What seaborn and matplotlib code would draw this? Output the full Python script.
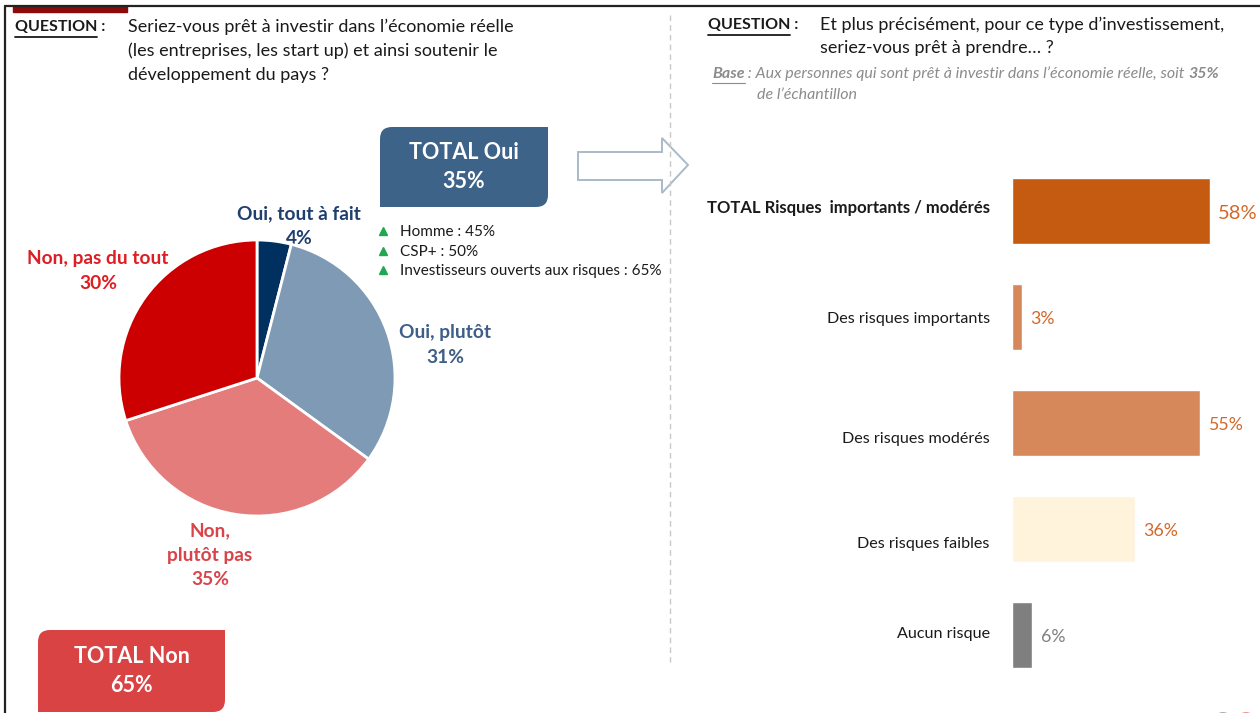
import matplotlib
matplotlib.use("Agg")
import matplotlib.pyplot as plt
import seaborn as sns
import pandas as pd
from matplotlib.patches import FancyBboxPatch, Rectangle, Polygon, Circle

# --- data -------------------------------------------------------------------
pie_labels = ["Oui, tout à fait", "Oui, plutôt", "Non,\nplutôt pas", "Non, pas du tout"]
pie_values = [4, 31, 35, 30]
pie_colors = ["#00305F", "#7F9AB4", "#E47C7C", "#CC0000"]

total_oui = 35
total_non = 65
bullet_labels = ["Homme : 45%", "CSP+ : 50%", "Investisseurs ouverts aux risques : 65%"]

risk_labels = ["TOTAL Risques  importants / modérés", "Des risques importants",
               "Des risques modérés", "Des risques faibles", "Aucun risque"]
risk_values = [58, 3, 55, 36, 6]
risk_colors = ["#C55A11", "#D6885A", "#D6885A", "#FFF3DB", "#7F7F7F"]

q1_lines = ["Seriez-vous prêt à investir dans l\u2019économie réelle",
            "(les entreprises, les start up) et ainsi soutenir le",
            "développement du pays ?"]
q2_lines = ["Et plus précisément, pour ce type d\u2019investissement,",
            "seriez-vous prêt à prendre\u2026 ?"]

W, H = 1260, 713
sns.set_theme(style="white")
plt.rcParams['font.family'] = ['Lato', 'DejaVu Sans']

fig = plt.figure(figsize=(W / 100, H / 100), dpi=100)
fig.patch.set_facecolor("white")


def px_axes(x0, y0, x1, y1):
    # axes from pixel box (top-left origin)
    return fig.add_axes([x0 / W, 1 - y1 / H, (x1 - x0) / W, (y1 - y0) / H])


# overlay in pixel coordinates
bg = fig.add_axes([0, 0, 1, 1])
bg.set_xlim(0, W)
bg.set_ylim(H, 0)
bg.axis("off")

# frame
bg.plot([5, W], [6, 6], color="#222222", lw=1.6)
bg.plot([5, 5], [6, H], color="#222222", lw=1.6)
bg.add_patch(Rectangle((13, 6), 114, 6, color="#8B0A0A"))
bg.plot([670, 670], [15, 662], color="#C8C8C8", lw=1, ls=(0, (4, 3)))

# question 1
bg.text(15, 27, "QUESTION :", fontsize=11.5, fontweight="bold", color="#1A1A1A", va="center")
bg.plot([15, 97], [37, 37], color="#1A1A1A", lw=1.3)
for i, line in enumerate(q1_lines):
    bg.text(128, 27 + i * 24, line, fontsize=13, color="#1A1A1A", va="center")

# question 2
bg.text(708, 25, "QUESTION :", fontsize=11.5, fontweight="bold", color="#1A1A1A", va="center")
bg.plot([708, 790], [35, 35], color="#1A1A1A", lw=1.3)
for i, line in enumerate(q2_lines):
    bg.text(820, 25 + i * 23, line, fontsize=13, color="#1A1A1A", va="center")

grey = "#8C8C8C"
base_fs = 11.5
t = bg.text(712, 74, "Base", fontsize=base_fs, style="italic", fontweight="bold",
            color=grey, va="center")
bg.plot([712, 745], [83, 83], color=grey, lw=0.8)
t = bg.annotate(" : Aux personnes qui sont prêt à investir dans l\u2019économie réelle, soit ",
                xy=(1, 0.5), xycoords=t, fontsize=base_fs, style="italic", color=grey,
                va="center", ha="left")
bg.annotate(f"{total_oui}%", xy=(1, 0.5), xycoords=t, fontsize=base_fs, style="italic",
            fontweight="bold", color=grey, va="center", ha="left")
bg.text(757, 95, "de l\u2019échantillon", fontsize=base_fs, style="italic", color=grey,
        va="center")


def total_box(x0, y0, x1, y1, color, text, square_corners):
    bg.add_patch(FancyBboxPatch((x0, y0), x1 - x0, y1 - y0,
                                boxstyle="round,pad=0,rounding_size=12",
                                fc=color, ec="none"))
    for cx, cy in square_corners:
        bg.add_patch(Rectangle((cx, cy), 14, 14, fc=color, ec="none"))
    bg.text((x0 + x1) / 2, (y0 + y1) / 2, text, fontsize=15.5, fontweight="bold",
            color="white", ha="center", va="center", linespacing=1.45)


total_box(380, 127, 548, 207, "#3E6388", f"TOTAL Oui\n{total_oui}%",
          [(534, 127), (380, 193)])
total_box(38, 630, 225, 712, "#D94343", f"TOTAL Non\n{total_non}%",
          [(211, 630), (38, 698)])

# bullets
for i, lab in enumerate(bullet_labels):
    y = 232 + i * 19.5
    bg.plot(383, y - 1, marker="^", color="#1FA84F", markersize=5.5)
    bg.text(400, y, lab, fontsize=11, color="#1A1A1A", va="center")

# arrow
bg.add_patch(Polygon([(578, 152), (662, 152), (662, 138), (688, 165),
                      (662, 193), (662, 180), (578, 180)],
                     closed=True, fc="white", ec="#A9BACB", lw=1.4))

# logo hint
bg.add_patch(Circle((1223, 726), 13, color="#8A8A8A"))
bg.add_patch(Circle((1246, 726), 13, color="#E46A6A"))

# --- pie --------------------------------------------------------------------
ax_pie = px_axes(119, 240, 395, 516)
ax_pie.pie(pie_values, colors=pie_colors, startangle=90, counterclock=False,
           wedgeprops=dict(edgecolor="white", linewidth=2))
ax_pie.set_xlim(-1, 1)
ax_pie.set_ylim(-1, 1)
ax_pie.set_aspect("equal")
ax_pie.axis("off")

pie_label_pos = [(299, 226), (445, 345), (210, 555), (98, 271)]
pie_label_colors = ["#1F3F6E", "#3F5F87", "#D9434A", "#DD1E22"]
for lab, val, (x, y), c in zip(pie_labels, pie_values, pie_label_pos, pie_label_colors):
    bg.text(x, y, f"{lab}\n{val}%", fontsize=13.8, fontweight="bold", color=c,
            ha="center", va="center", linespacing=1.55)

# --- bars -------------------------------------------------------------------
df = pd.DataFrame({"label": risk_labels, "value": risk_values})
ax_bar = px_axes(1012, 158, 1260, 688)
ax_bar.patch.set_alpha(0)
sns.barplot(data=df, x="value", y="label", hue="label", palette=risk_colors,
            width=0.62, legend=False, ax=ax_bar, saturation=1)
ax_bar.set_xlim(0, 248 / 3.41)
ax_bar.set_ylim(4.5, -0.5)
ax_bar.axis("off")

label_dy = [2, -1.5, -11.5, -11, 0.5]  # points
for i, (lab, val) in enumerate(zip(risk_labels, risk_values)):
    bold = i == 0
    ax_bar.annotate(lab, (0, i), xytext=(-16, label_dy[i]),
                    textcoords="offset points", ha="right", va="center",
                    fontsize=12 if bold else 11.6, fontweight="bold" if bold else "normal",
                    color="#1A1A1A", annotation_clip=False)
    vcol = "#7F7F7F" if i == 4 else "#D2692A"
    ax_bar.annotate(f"{val}%", (val, i), xytext=(6, -1.5),
                    textcoords="offset points", ha="left", va="center",
                    fontsize=14.5 if bold else 12.8, color=vcol,
                    annotation_clip=False)

fig.savefig("out.png", dpi=100, facecolor="white")
